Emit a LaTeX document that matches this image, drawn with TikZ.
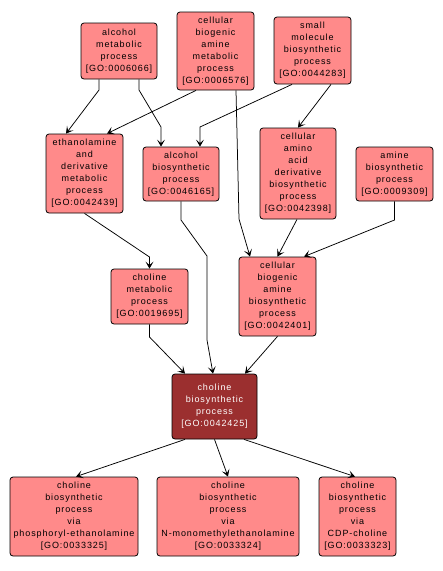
\documentclass[tikz,border=0pt]{standalone}
\usepackage{fontspec}
\newfontfamily\gofont[LetterSpace=10]{Liberation Sans}
\usetikzlibrary{arrows.meta,positioning}
\definecolor{goterm}{HTML}{FF8A8A}
\definecolor{goquery}{HTML}{9B2F2F}
\tikzset{
  term/.style={draw=black,fill=goterm,rounded corners=3pt,line width=0.8pt,
    align=center,inner sep=0pt,font=\gofont\fontsize{9}{12}\selectfont},
  query/.style={term,fill=goquery,text=white},
  isa/.style={line width=0.75pt,-{Stealth[length=7pt,width=8pt,inset=3.5pt]}}
}
\begin{document}
\begin{tikzpicture}[x=1pt,y=-1pt]
\useasboundingbox (0,0) rectangle (443,571);
% top row
\node[term,minimum width=76,minimum height=56] (alcmet) at (119,51) {alcohol\\metabolic\\process\\{[GO:0006066]}};
\node[term,minimum width=77,minimum height=78] (cbamet) at (215.5,51) {cellular\\biogenic\\amine\\metabolic\\process\\{[GO:0006576]}};
\node[term,minimum width=77,minimum height=67] (smbio) at (312.5,50.5) {small\\molecule\\biosynthetic\\process\\{[GO:0044283]}};
% second row
\node[term,minimum width=77,minimum height=79] (ethmet) at (84.5,173.5) {ethanolamine\\and\\derivative\\metabolic\\process\\{[GO:0042439]}};
\node[term,minimum width=76,minimum height=54] (alcbio) at (181,174) {alcohol\\biosynthetic\\process\\{[GO:0046165]}};
\node[term,minimum width=76,minimum height=91] (caabio) at (298,173.5) {cellular\\amino\\acid\\derivative\\biosynthetic\\process\\{[GO:0042398]}};
\node[term,minimum width=77,minimum height=54] (aminebio) at (394.5,174) {amine\\biosynthetic\\process\\{[GO:0009309]}};
% third row
\node[term,minimum width=77,minimum height=55] (chomet) at (149.5,296.5) {choline\\metabolic\\process\\{[GO:0019695]}};
\node[term,minimum width=77,minimum height=79] (cbabio) at (277.5,296.5) {cellular\\biogenic\\amine\\biosynthetic\\process\\{[GO:0042401]}};
% query term
\node[query,minimum width=85,minimum height=65] (chobio) at (214.5,406.5) {choline\\biosynthetic\\process\\{[GO:0042425]}};
% bottom row
\node[term,minimum width=128,minimum height=79] (viaphos) at (74,516.5) {choline\\biosynthetic\\process\\via\\phosphoryl-ethanolamine\\{[GO:0033325]}};
\node[term,minimum width=142,minimum height=79] (viamono) at (228,516.5) {choline\\biosynthetic\\process\\via\\N-monomethylethanolamine\\{[GO:0033324]}};
\node[term,minimum width=77,minimum height=79] (viacdp) at (357.5,516.5) {choline\\biosynthetic\\process\\via\\CDP-choline\\{[GO:0033323]}};
% edges
\draw[isa] ([xshift=-20pt]alcmet.south) -- (99,90) -- ([xshift=-18.5pt]ethmet.north);
\draw[isa] ([xshift=20pt]alcmet.south) -- (139,90) -- (161,127) -- ([xshift=-20pt]alcbio.north);
\draw[isa] ([xshift=-19.5pt]cbamet.south) -- ([xshift=22.5pt]ethmet.north);
\draw[isa] ([xshift=20.5pt]cbamet.south) -- (239,219) -- ([xshift=-27.5pt]cbabio.north);
\draw[isa] ([xshift=-20.5pt]smbio.south) -- (200,127) -- ([xshift=19pt]alcbio.north);
\draw[isa] ([xshift=18.5pt]smbio.south) -- (caabio.north);
\draw[isa] (ethmet.south) -- (149.5,257) -- (chomet.north);
\draw[isa] (alcbio.south) -- (181,220) -- (207,256) -- (207,340) -- ([xshift=-1.5pt]chobio.north);
\draw[isa] ([xshift=-1pt]caabio.south) -- (cbabio.north);
\draw[isa] (aminebio.south) -- (394.5,220) -- ([xshift=26.5pt]cbabio.north);
\draw[isa] (chomet.south) -- (149.5,337) -- ([xshift=-29.5pt]chobio.north);
\draw[isa] (cbabio.south) -- ([xshift=30.5pt]chobio.north);
\draw[isa] ([xshift=-29.5pt]chobio.south) -- ([xshift=2pt]viaphos.north);
\draw[isa] (chobio.south) -- (viamono.north);
\draw[isa] ([xshift=29.5pt]chobio.south) -- ([xshift=-2.5pt]viacdp.north);
\end{tikzpicture}
\end{document}
